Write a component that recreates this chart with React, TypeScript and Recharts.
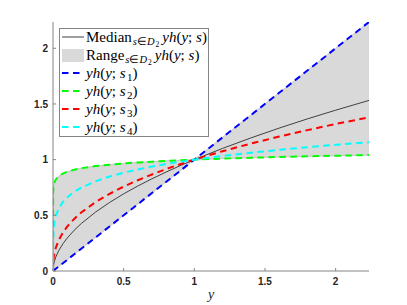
import React from 'react';
import { ComposedChart, Line, Area, XAxis, YAxis, Legend } from 'recharts';

// sample positions along the y-axis variable
const xs = [0, 0.001, 0.005, 0.01, 0.02, 0.04, 0.07, 0.1, 0.15, 0.2, 0.3, 0.4, 0.5, 0.6, 0.7, 0.8, 0.9, 1, 1.2, 1.4, 1.6, 1.8, 2.0, 2.236];
// yh(y; s1) (blue)
const s1 = [0, 0.001, 0.005, 0.01, 0.02, 0.04, 0.07, 0.1, 0.15, 0.2, 0.3, 0.4, 0.5, 0.6, 0.7, 0.8, 0.9, 1, 1.2, 1.4, 1.6, 1.8, 2.0, 2.236];
// yh(y; s2) (green)
const s2 = [0, 0.708, 0.767, 0.794, 0.822, 0.851, 0.875, 0.891, 0.909, 0.923, 0.942, 0.955, 0.966, 0.975, 0.982, 0.989, 0.995, 1, 1.009, 1.017, 1.024, 1.03, 1.035, 1.041];
// yh(y; s3) (red)
const s3 = [0, 0.063, 0.12, 0.158, 0.209, 0.276, 0.345, 0.398, 0.468, 0.525, 0.618, 0.693, 0.758, 0.815, 0.867, 0.915, 0.959, 1, 1.076, 1.144, 1.207, 1.265, 1.32, 1.38];
// yh(y; s4) (cyan)
const s4 = [0, 0.288, 0.385, 0.437, 0.495, 0.56, 0.62, 0.661, 0.711, 0.748, 0.805, 0.848, 0.883, 0.912, 0.938, 0.961, 0.981, 1, 1.033, 1.062, 1.088, 1.112, 1.133, 1.156];
// median over s
const median = [0, 0.026, 0.06, 0.087, 0.126, 0.182, 0.244, 0.295, 0.366, 0.426, 0.528, 0.615, 0.693, 0.763, 0.828, 0.888, 0.946, 1, 1.101, 1.195, 1.283, 1.366, 1.444, 1.532];
// range over s
const rangeLow = [0, 0.001, 0.005, 0.01, 0.02, 0.04, 0.07, 0.1, 0.15, 0.2, 0.3, 0.4, 0.5, 0.6, 0.7, 0.8, 0.9, 1, 1.009, 1.017, 1.024, 1.03, 1.035, 1.041];
const rangeHigh = [0, 0.708, 0.767, 0.794, 0.822, 0.851, 0.875, 0.891, 0.909, 0.923, 0.942, 0.955, 0.966, 0.975, 0.982, 0.989, 0.995, 1, 1.2, 1.4, 1.6, 1.8, 2.0, 2.236];

const xTicks = [0, 0.5, 1, 1.5, 2];
const yTicks = [0, 0.5, 1, 1.5, 2];
const axisMax = 2.236;

const data = xs.map((x, i) => ({
  x,
  s1: s1[i],
  s2: s2[i],
  s3: s3[i],
  s4: s4[i],
  median: median[i],
  range: [rangeLow[i], rangeHigh[i]],
}));

const AXIS = '#858585';
const TXT = '#262626';
const DASH = '6.5 4.5';
const tickStyle = { fill: TXT, fontSize: 10, fontWeight: 'bold' as const, fontFamily: '"Liberation Sans", Arial, sans-serif' };

const YH = ({ sub }: { sub?: string }) => (
  <span>
    <i>y</i><i>h</i>(<i>y</i>;&nbsp;<i>s</i>
    {sub ? <span style={{ fontSize: 11, position: 'relative', top: 3, marginLeft: 1.5 }}>{sub}</span> : null})
  </span>
);

const SubSD = () => (
  <span style={{ fontSize: 10.5, position: 'relative', top: 3, marginLeft: 1, marginRight: 3 }}>
    <i>s</i>∈<i>D</i>
    <span style={{ fontSize: 7.5, position: 'relative', top: 1.5, marginLeft: 1 }}>2</span>
  </span>
);

const legendRows = [
  { kind: 'solid', color: '#404040', label: <span>Median<SubSD /><YH /></span> },
  { kind: 'fill', color: '#d9d9d9', label: <span>Range<SubSD /><YH /></span> },
  { kind: 'dash', color: '#0000ff', label: <YH sub="1" /> },
  { kind: 'dash', color: '#00ff00', label: <YH sub="2" /> },
  { kind: 'dash', color: '#ff0000', label: <YH sub="3" /> },
  { kind: 'dash', color: '#00ffff', label: <YH sub="4" /> },
];

const LegendBox = () => (
  <div
    style={{
      position: 'relative',
      width: 150,
      height: 109,
      boxSizing: 'border-box',
      border: `1px solid ${AXIS}`,
      background: '#fff',
      fontFamily: '"Liberation Serif", "Times New Roman", serif',
      fontSize: 15,
      color: '#000',
    }}
  >
    {legendRows.map((r, i) => (
      <div key={i} style={{ position: 'absolute', left: 0, top: i * 18 - 1, height: 18, width: 148 }}>
        <svg width={26} height={18} style={{ position: 'absolute', left: 0, top: 0 }}>
          {r.kind === 'solid' && <line x1={2} x2={24} y1={9} y2={9} stroke={r.color} strokeWidth={1} />}
          {r.kind === 'fill' && <rect x={2} y={3} width={22} height={13} fill={r.color} />}
          {r.kind === 'dash' && (
            <line x1={2} x2={21} y1={9} y2={9} stroke={r.color} strokeWidth={2} strokeDasharray={DASH} />
          )}
        </svg>
        <div style={{ position: 'absolute', left: 26, top: 0, height: 18, lineHeight: '18px', whiteSpace: 'nowrap' }}>
          {r.label}
        </div>
      </div>
    ))}
  </div>
);

export default function App() {
  return (
    <div style={{ position: 'absolute', left: 0, top: 0, width: 407, height: 305, background: '#fff' }}>
      <ComposedChart
        width={407}
        height={305}
        data={data}
        margin={{ top: 22, right: 38, left: 0, bottom: 0 }}
      >
        <XAxis
          xAxisId="b"
          dataKey="x"
          type="number"
          domain={[0, axisMax]}
          ticks={xTicks}
          allowDataOverflow
          height={34}
          stroke={AXIS}
          tickSize={-3}
          tickMargin={10}
          tick={tickStyle}
          tickFormatter={(v: number) => String(v)}
          label={{ value: 'y', position: 'insideBottom', offset: 6, style: { fontFamily: '"Liberation Serif", serif', fontStyle: 'italic', fontSize: 14, fill: TXT } }}
        />
        <XAxis
          xAxisId="t"
          orientation="top"
          dataKey="x"
          type="number"
          domain={[0, axisMax]}
          ticks={xTicks}
          allowDataOverflow
          height={0}
          stroke={AXIS}
          tickSize={-3}
          tickFormatter={() => ''}
        />
        <YAxis
          yAxisId="l"
          type="number"
          domain={[0, axisMax]}
          ticks={yTicks}
          allowDataOverflow
          width={53}
          stroke={AXIS}
          tickSize={-3}
          tickMargin={8}
          tick={tickStyle}
          tickFormatter={(v: number) => String(v)}
        />
        <YAxis
          yAxisId="r"
          orientation="right"
          type="number"
          domain={[0, axisMax]}
          ticks={yTicks}
          allowDataOverflow
          width={0}
          stroke={AXIS}
          tickSize={-3}
          tickFormatter={() => ''}
        />
        <Area
          xAxisId="b"
          yAxisId="l"
          dataKey="range"
          type="linear"
          fill="#d9d9d9"
          fillOpacity={1}
          stroke="#c4c4c4"
          strokeWidth={1}
          isAnimationActive={false}
          dot={false}
          activeDot={false}
        />
        <Line xAxisId="b" yAxisId="l" dataKey="median" type="linear" stroke="#404040" strokeWidth={1} dot={false} activeDot={false} isAnimationActive={false} />
        <Line xAxisId="b" yAxisId="l" dataKey="s1" type="linear" stroke="#0000ff" strokeWidth={2} strokeDasharray={DASH} dot={false} activeDot={false} isAnimationActive={false} />
        <Line xAxisId="b" yAxisId="l" dataKey="s2" type="linear" stroke="#00ff00" strokeWidth={2} strokeDasharray={DASH} dot={false} activeDot={false} isAnimationActive={false} />
        <Line xAxisId="b" yAxisId="l" dataKey="s3" type="linear" stroke="#ff0000" strokeWidth={2} strokeDasharray={DASH} dot={false} activeDot={false} isAnimationActive={false} />
        <Line xAxisId="b" yAxisId="l" dataKey="s4" type="linear" stroke="#00ffff" strokeWidth={2} strokeDasharray={DASH} dot={false} activeDot={false} isAnimationActive={false} />
        <Legend
          layout="vertical"
          align="center"
          verticalAlign="middle"
          wrapperStyle={{ left: 59, top: 28, width: 150, height: 109 }}
          content={() => <LegendBox />}
        />
      </ComposedChart>
    </div>
  );
}
